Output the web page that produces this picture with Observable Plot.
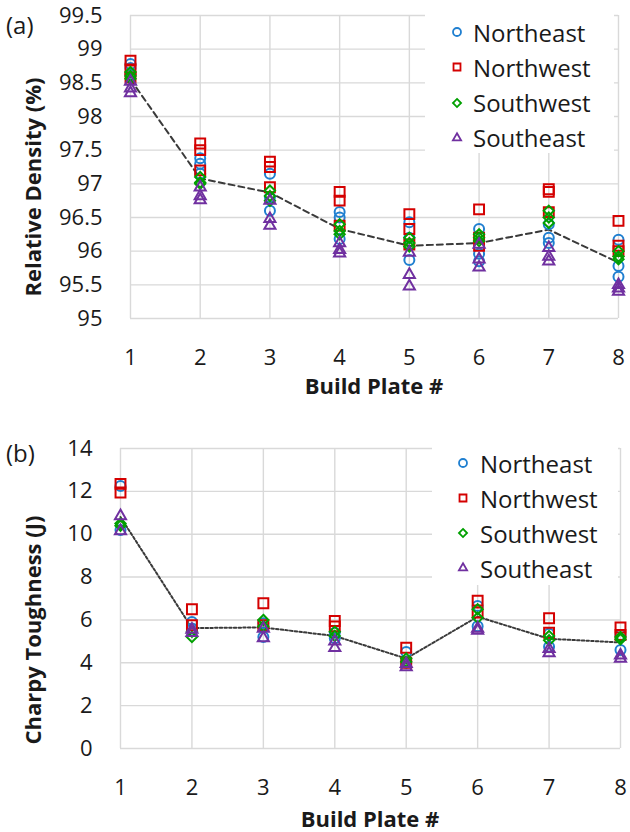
<!DOCTYPE html>
<html><head><meta charset="utf-8">
<script src="https://cdn.jsdelivr.net/npm/d3@7"></script>
<script src="https://cdn.jsdelivr.net/npm/@observablehq/plot@0.6"></script>
<style>
body{margin:0;background:#fff;}
#wrap{position:relative;width:630px;height:832px;font-family:"Open Sans",sans-serif;overflow:hidden;background:#fff;}
.panel{position:absolute;left:0;}
.legend{position:absolute;background:#fff;}
.legend .row{position:absolute;height:30px;display:flex;align-items:center;font-size:24px;color:#1a1a1a;white-space:nowrap;}
.legend svg{display:block;}
</style></head><body><div id="wrap"></div>
<script>
// ---------- data ----------
const plates = [1, 2, 3, 4, 5, 6, 7, 8];
const seriesNames = ["Northeast", "Northwest", "Southwest", "Southeast"];
const seriesColors = ["#1f7fd0", "#d40000", "#00a000", "#7030a0"];
const seriesSymbols = ["circle", "square2", "diamond2", "triangle2"];

// (a) Relative density (%) — values per build plate
const densityNE = [[98.78,98.72,98.62],[97.38,97.3,97.15],[97.15,96.8,96.6],[96.58,96.5,96.18],[96.43,96.2,95.87],[96.33,95.96,95.85],[96.4,96.2,96.12],[96.17,95.78,95.62]];
const densityNW = [[98.83,98.7,98.58],[97.6,97.5,97.2],[97.33,97.25,96.95],[96.88,96.75,96.38],[96.55,96.33,96.1],[96.62,96.2,96.08],[96.92,96.88,96.58],[96.45,96.08,96.0]];
const densitySW = [[98.66,98.6,98.56],[97.1,97.02,97.0],[96.9,96.82,96.75],[96.4,96.3,96.25],[96.2,96.12,96.07],[96.25,96.2,96.15],[96.6,96.5,96.42],[96.0,95.92,95.88]];
const densitySE = [[98.52,98.42,98.35],[96.95,96.82,96.76],[96.75,96.48,96.38],[96.12,96.02,95.97],[95.98,95.65,95.48],[96.1,95.88,95.76],[96.05,95.92,95.85],[95.5,95.45,95.4]];
const densityMean = [98.55, 97.08, 96.87, 96.33, 96.08, 96.12, 96.32, 95.83];
const densityTicks = [95, 95.5, 96, 96.5, 97, 97.5, 98, 98.5, 99, 99.5];

// (b) Charpy toughness (J) — values per build plate
const toughNE = [[12.25,10.2],[5.9,5.6],[5.85,5.2],[5.4,5.15],[4.5,4.0],[6.65,5.7],[5.35,4.75],[5.3,4.6]];
const toughNW = [[12.35,11.95],[6.5,5.75],[6.78,5.75],[5.95,5.7],[4.7,4.0],[6.9,6.35],[6.08,5.4],[5.65,5.3]];
const toughSW = [[10.5,10.4],[5.45,5.2],[6.0,5.7],[5.45,5.25],[4.2,4.05],[6.5,6.1],[5.25,5.05],[5.2,5.1]];
const toughSE = [[10.85,10.15],[5.55,5.4],[5.6,5.15],[4.7,5.0],[3.95,3.8],[5.5,5.6],[4.65,4.45],[4.35,4.2]];
const toughMean = [10.8, 5.62, 5.65, 5.25, 4.2, 6.15, 5.12, 4.95];
const toughTicks = [0, 2, 4, 6, 8, 10, 12, 14];

// ---------- helpers ----------
function flatten(seriesArrays) {
  const rows = [];
  seriesArrays.forEach((arr, s) => arr.forEach((vals, i) => vals.forEach(v => rows.push({plate: plates[i], value: v, series: seriesNames[s]}))));
  return rows;
}
const markerR = {circle: 5, square2: 6.3, diamond2: 4.6, triangle2: 5.3};

function makePanel(cfg) {
  const rows = flatten(cfg.series);
  const meanRows = plates.map((p, i) => ({plate: p, value: cfg.mean[i]}));
  const grid = {stroke: "#d9d9d9", strokeOpacity: 1, strokeWidth: 1.4};
  const svg = Plot.plot({
    width: 630, height: cfg.height,
    marginTop: cfg.mt, marginBottom: cfg.mb, marginLeft: cfg.ml, marginRight: cfg.mr,
    style: {fontFamily: '"Open Sans", sans-serif', fontSize: "22px", color: "#1a1a1a", background: "transparent", overflow: "visible"},
    x: {domain: [1, 8], label: null},
    y: {domain: cfg.yDomain, label: null},
    marks: [
      Plot.gridX(plates, grid),
      Plot.gridY(cfg.ticks, grid),
      Plot.axisX(plates, {tickSize: 0, tickPadding: 31, label: null}),
      Plot.axisY(cfg.ticks, {tickSize: 0, tickPadding: 28, label: null, tickFormat: d => String(d)}),
      Plot.line(meanRows, {x: "plate", y: "value", stroke: "#3a3a3a", strokeWidth: cfg.dashWidth, strokeDasharray: cfg.dash}),
      ...seriesNames.map((name, s) => Plot.dot(rows.filter(r => r.series === name), {
        x: "plate", y: "value", symbol: seriesSymbols[s], r: markerR[seriesSymbols[s]],
        stroke: seriesColors[s], strokeWidth: 2, fill: "none"
      }))
    ]
  });
  const sel = d3.select(svg);
  sel.append("text").attr("x", 6).attr("y", cfg.tagY).attr("dominant-baseline", "central")
    .attr("text-anchor", "start")
    .attr("font-size", 24).attr("fill", "#1a1a1a").text(cfg.tag);
  sel.append("text").attr("transform", `translate(${cfg.yLabelX},${cfg.yLabelY}) rotate(-90)`)
    .attr("text-anchor", "middle").attr("dominant-baseline", "central")
    .attr("font-size", 22).attr("font-weight", "bold").attr("fill", "#1a1a1a").text(cfg.yLabel);
  sel.append("text").attr("x", cfg.xLabelX).attr("y", cfg.xLabelY)
    .attr("text-anchor", "middle").attr("dominant-baseline", "central")
    .attr("font-size", 22).attr("font-weight", "bold").attr("fill", "#1a1a1a").text("Build Plate #");
  const div = document.createElement("div");
  div.className = "panel";
  div.style.top = cfg.top + "px";
  div.appendChild(svg);
  return div;
}

const d3Sym = {circle: d3.symbolCircle, square2: d3.symbolSquare2, diamond2: d3.symbolDiamond2, triangle2: d3.symbolTriangle2};
const legendSize = {circle: 50, square2: 62, diamond2: 42, triangle2: 48};
function makeLegend(cfg) {
  const box = document.createElement("div");
  box.className = "legend";
  Object.assign(box.style, {left: cfg.left + "px", top: cfg.top + "px", width: cfg.width + "px", height: cfg.height + "px"});
  seriesNames.forEach((name, s) => {
    const row = document.createElement("div");
    row.className = "row";
    row.style.top = (cfg.firstRow + s * cfg.step - 15 - cfg.top) + "px";
    row.style.left = (cfg.markerX - 7 - cfg.left) + "px";
    const sv = d3.create("svg").attr("width", 14).attr("height", 14).style("margin-right", (cfg.textGap) + "px");
    sv.append("path").attr("transform", "translate(7,7)")
      .attr("d", d3.symbol(d3Sym[seriesSymbols[s]], legendSize[seriesSymbols[s]])())
      .attr("fill", "none").attr("stroke", seriesColors[s]).attr("stroke-width", 1.8);
    row.appendChild(sv.node());
    const t = document.createElement("span");
    t.textContent = name;
    row.appendChild(t);
    box.appendChild(row);
  });
  return box;
}

const wrap = document.getElementById("wrap");
wrap.appendChild(makePanel({
  series: [densityNE, densityNW, densitySW, densitySE], mean: densityMean,
  yDomain: [95, 99.5], ticks: densityTicks, top: 0, height: 410,
  mt: 15, mb: 92, ml: 130, mr: 12, dash: "6,4", dashWidth: 2,
  tag: "(a)", tagY: 24, yLabel: "Relative Density (%)", yLabelX: 32, yLabelY: 187,
  xLabelX: 374, xLabelY: 385
}));
wrap.appendChild(makePanel({
  series: [toughNE, toughNW, toughSW, toughSE], mean: toughMean,
  yDomain: [0, 14], ticks: toughTicks, top: 416, height: 416,
  mt: 32, mb: 84, ml: 120, mr: 10, dash: "2.5,2.2", dashWidth: 2,
  tag: "(b)", tagY: 36, yLabel: "Charpy Toughness (J)", yLabelX: 32, yLabelY: 214,
  xLabelX: 370, xLabelY: 402
}));
wrap.appendChild(makeLegend({left: 425, top: 13, width: 189, height: 140, markerX: 457, firstRow: 32, step: 35.3, textGap: 9}));
wrap.appendChild(makeLegend({left: 432, top: 446, width: 186, height: 139, markerX: 463, firstRow: 463, step: 35, textGap: 10}));
</script></body></html>
